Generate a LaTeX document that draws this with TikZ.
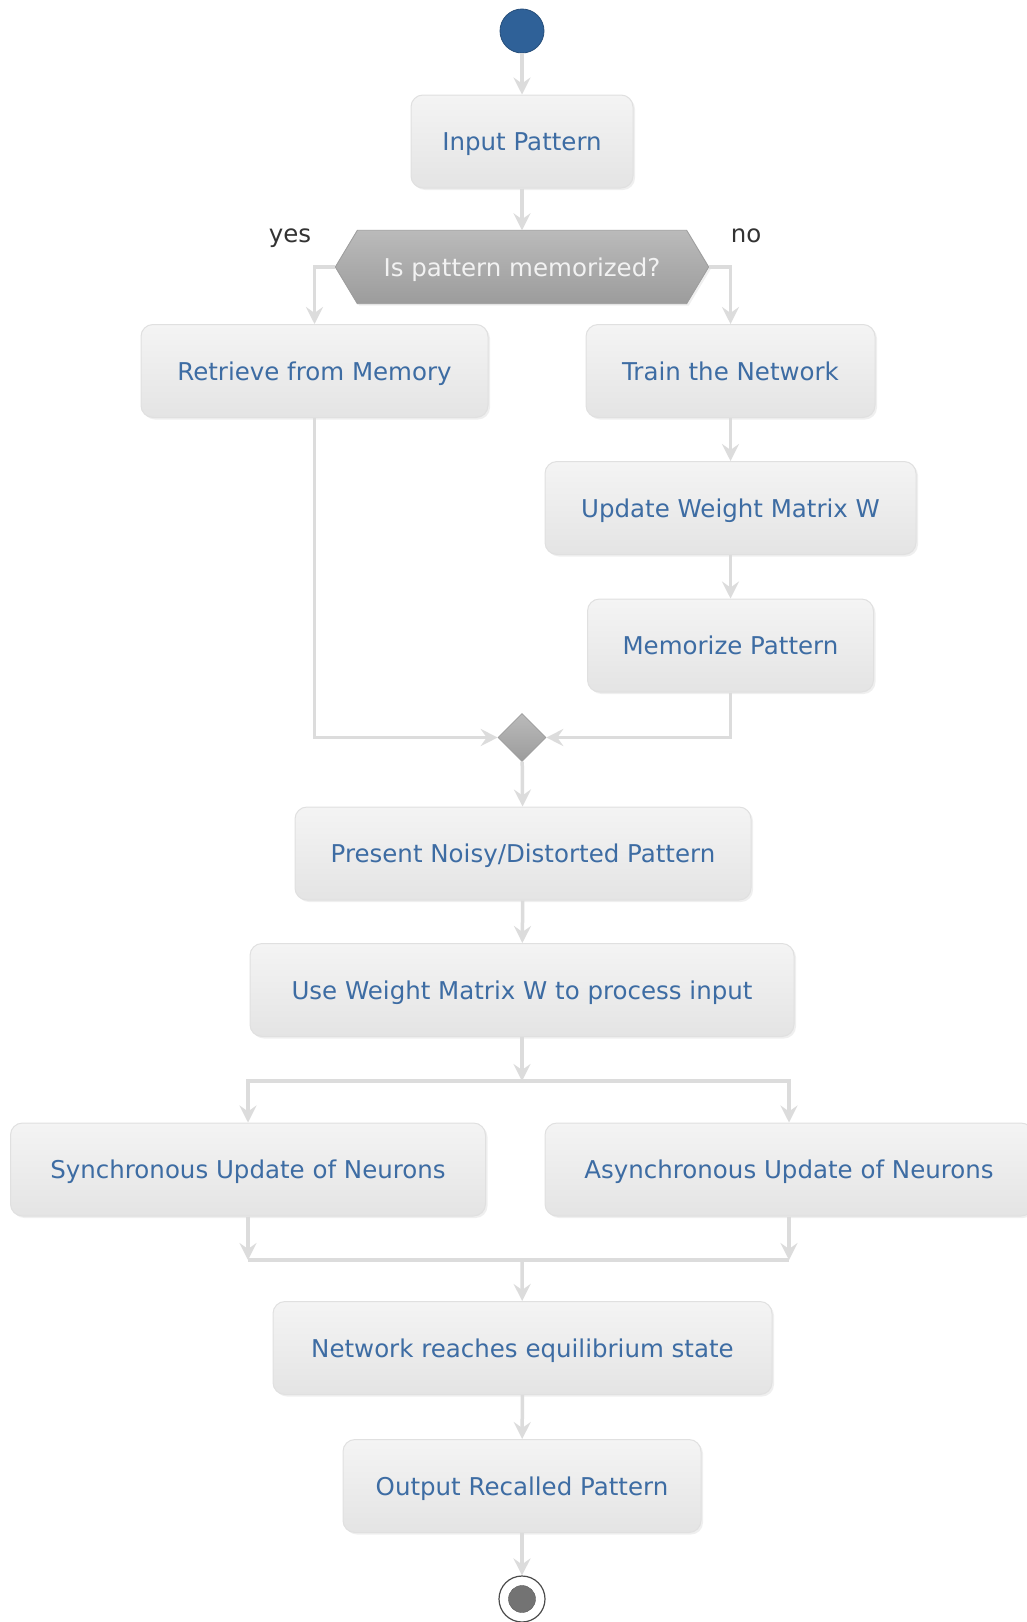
\documentclass[tikz,border=0pt]{standalone}
\usepackage{fontspec}
\setmainfont{DejaVu Sans}
\usetikzlibrary{arrows.meta,shadows,calc,shapes.geometric}
\definecolor{txtblue}{HTML}{3D6CA3}
\definecolor{linegray}{HTML}{DCDCDC}
\definecolor{boxtop}{HTML}{F4F4F4}
\definecolor{boxbot}{HTML}{E4E4E4}
\definecolor{boxborder}{HTML}{E0E0E0}
\definecolor{startblue}{HTML}{2F6198}
\definecolor{decgray}{HTML}{AEAEAE}
\definecolor{decdark}{HTML}{9C9C9C}
\definecolor{labgray}{HTML}{333333}
\tikzset{
  every node/.style={font=\fontsize{24.5}{29}\selectfont},
  txt/.style={text height=18pt, text depth=0pt},
  actbox/.style={txt, rectangle, rounded corners=12pt, draw=boxborder, line width=1pt,
    top color=boxtop, bottom color=boxbot, text=txtblue, minimum height=93pt,
    inner sep=0pt, drop shadow={opacity=0.12, shadow xshift=2pt, shadow yshift=-2pt}},
  arr/.style={draw=linegray, line width=3.5pt, -{Stealth[length=17pt,width=17pt,inset=6pt,fill=linegray]}},
  ln/.style={draw=linegray, line width=3.5pt},
  lab/.style={txt, text=labgray},
}
\begin{document}
\begin{tikzpicture}[x=1pt,y=-1pt]
\useasboundingbox (0,0) rectangle (1026,1622);
\fill[white] (0,0) rectangle (1026,1622);

% start
\node[circle, fill=startblue, draw=startblue!80!black, line width=0.8pt, minimum size=44pt, inner sep=0pt] (start) at (522,31) {};

\node[actbox, minimum width=222pt] (inp) at (522,141.5) {Input Pattern};

% decision hexagon
\node[minimum width=373pt, minimum height=73pt, inner sep=0pt] (dec) at (522,267) {};
\path[top color=decgray!85!white, bottom color=decdark, draw=decdark, line width=0.8pt,
  drop shadow={opacity=0.12, shadow xshift=2pt, shadow yshift=-2pt}]
  (dec.west) -- ($(dec.north west)+(22,0)$) -- ($(dec.north east)+(-22,0)$) -- (dec.east)
  -- ($(dec.south east)+(-22,0)$) -- ($(dec.south west)+(22,0)$) -- cycle;
\node[txt, text=white!90!gray] (dectext) at (dec.center) {Is pattern memorized?};

\node[lab] (yes) at (290,233) {yes};
\node[lab] (no) at (746,233) {no};

\node[actbox, minimum width=347pt] (ret) at (314.5,371) {Retrieve from Memory};
\node[actbox, minimum width=289pt] (train) at (730.5,371) {Train the Network};
\node[actbox, minimum width=371pt] (upd) at (730.5,508) {Update Weight Matrix W};
\node[actbox, minimum width=286pt] (mem) at (730.5,645.5) {Memorize Pattern};

% merge diamond
\node[diamond, shape aspect=1, minimum size=48pt, inner sep=0pt, top color=decgray!85!white, bottom color=decdark, draw=decdark, line width=0.6pt] (merge) at (522,737.5) {};

\node[actbox, minimum width=456pt] (pres) at (523,853.5) {Present Noisy/Distorted Pattern};
\node[actbox, minimum width=544pt] (use) at (522,990) {Use Weight Matrix W to process input};
\coordinate (fork) at (522,1081);
\node[actbox, minimum width=475pt] (sync) at (248,1169.5) {Synchronous Update of Neurons};
\node[actbox, minimum width=488pt] (async) at (789,1169.5) {Asynchronous Update of Neurons};
\coordinate (join) at (522,1260);
\node[actbox, minimum width=499pt] (net) at (522.5,1348) {Network reaches equilibrium state};
\node[actbox, minimum width=358pt] (out) at (522,1486) {Output Recalled Pattern};

% end
\node[circle, draw=black!70, fill=white, line width=1.2pt, minimum size=46pt, inner sep=0pt] (stop) at (522,1599) {};
\node[circle, fill=black!55, draw=black!65, minimum size=27pt, inner sep=0pt] (stopin) at (522,1599) {};

% connectors
\draw[arr] (start) -- (inp);
\draw[arr] (inp) -- (dec.north);
\draw[arr] (dec.west) -| (ret.north);
\draw[arr] (dec.east) -| (train.north);
\draw[arr] (train) -- (upd);
\draw[arr] (upd) -- (mem);
\draw[arr] (ret.south) |- (merge.west);
\draw[arr] (mem.south) |- (merge.east);
\draw[arr] (merge) -- (pres);
\draw[arr] (pres) -- (use);
\draw[arr] (use.south) -- (fork);
\draw[arr] (fork) -| (sync.north);
\draw[arr] (fork) -| (async.north);
\draw[arr] (sync.south) -- (sync.south |- join);
\draw[arr] (async.south) -- (async.south |- join);
\draw[ln] (sync.south |- join) -- (async.south |- join);
\draw[arr] (join) -- (net);
\draw[arr] (net) -- (out);
\draw[arr] (out) -- (stop);
\end{tikzpicture}
\end{document}
